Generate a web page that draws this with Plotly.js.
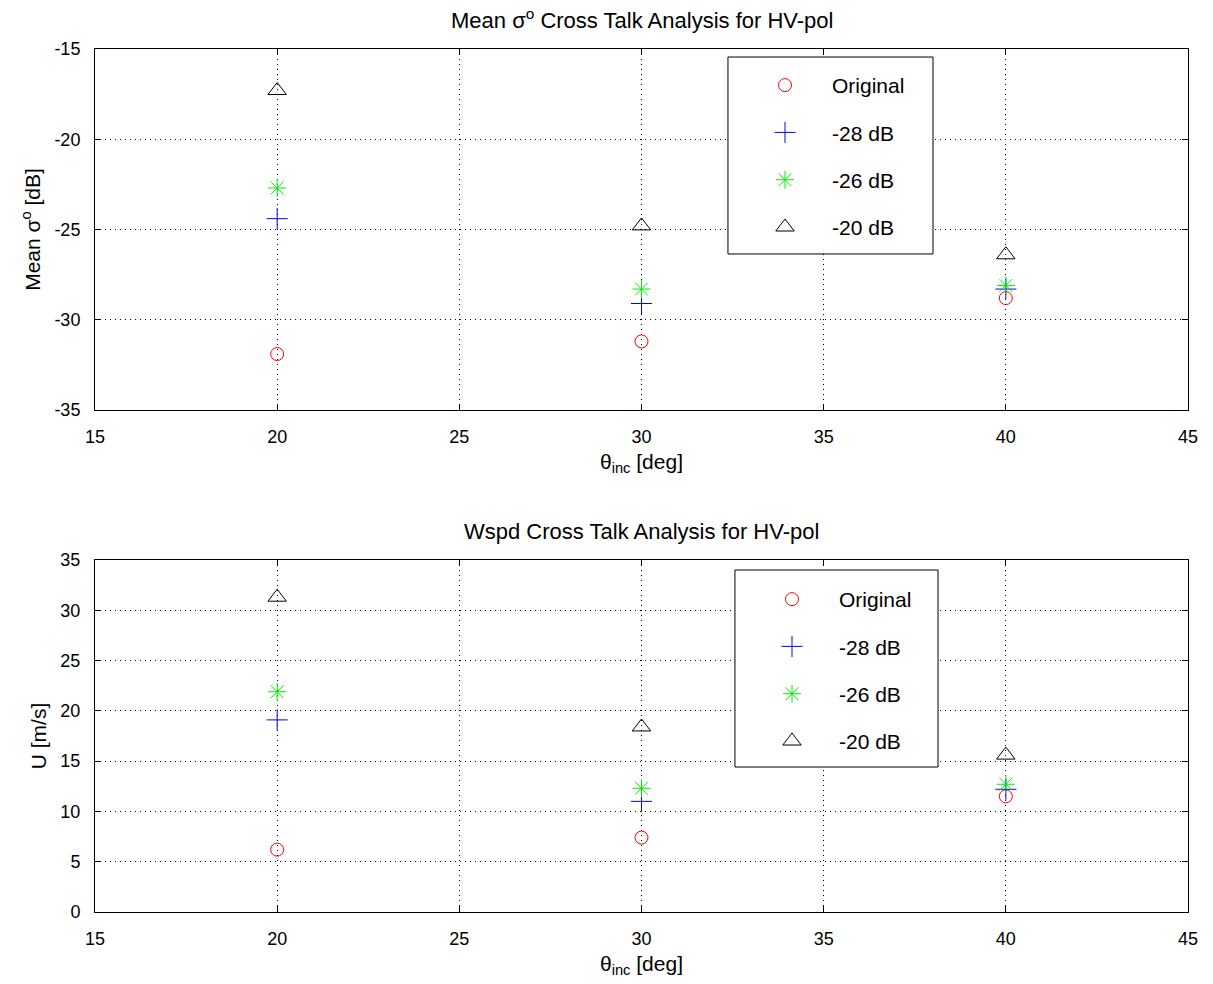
<!DOCTYPE html>
<html>
<head>
<meta charset="utf-8">
<script src="https://cdn.plot.ly/plotly-3.0.1.min.js"></script>
<style>html,body{margin:0;padding:0;background:#fff;}#chart{width:1213px;height:984px;}</style>
</head>
<body>
<div id="chart"></div>
<script>
// Data
var incAngles = [20, 30, 40];
var seriesNames = ['Original', '-28 dB', '-26 dB', '-20 dB'];
// Mean sigma0 [dB]
var sigmaOriginal = [-31.9, -31.2, -28.8];
var sigma28 = [-24.4, -29.1, -28.3];
var sigma26 = [-22.7, -28.3, -28.1];
var sigma20 = [-17.3, -24.8, -26.4];
// Wind speed [m/s]
var wspdOriginal = [6.2, 7.4, 11.5];
var wspd28 = [19.1, 11.0, 12.2];
var wspd26 = [21.9, 12.3, 12.7];
var wspd20 = [31.3, 18.4, 15.6];
// Tick labels
var xTicks = [15, 20, 25, 30, 35, 40, 45];
var xTickText = ['15', '20', '25', '30', '35', '40', '45'];
var yTicksTop = [-35, -30, -25, -20, -15];
var yTickTextTop = ['-35', '-30', '-25', '-20', '-15'];
var yTicksBot = [0, 5, 10, 15, 20, 25, 30, 35];
var yTickTextBot = ['0', '5', '10', '15', '20', '25', '30', '35'];

var styles = [
  {symbol: 'circle-open', color: '#ff0000', size: 13},
  {symbol: 'cross-thin-open', color: '#0000ff', size: 15},
  {symbol: 'asterisk-open', color: '#00ee00', size: 15},
  {symbol: 'triangle-up-open', color: '#000000', size: 16}
];
var topSeries = [sigmaOriginal, sigma28, sigma26, sigma20];
var botSeries = [wspdOriginal, wspd28, wspd26, wspd20];

var traces = [];
topSeries.forEach(function(ys, i){
  traces.push({x: incAngles, y: ys, type: 'scatter', mode: 'markers', name: seriesNames[i],
    xaxis: 'x', yaxis: 'y', legend: 'legend', legendgroup: 'a'+i,
    marker: {symbol: styles[i].symbol, color: styles[i].color, size: styles[i].size, line: {width: 1, color: styles[i].color}}});
});
botSeries.forEach(function(ys, i){
  traces.push({x: incAngles, y: ys, type: 'scatter', mode: 'markers', name: seriesNames[i],
    xaxis: 'x2', yaxis: 'y2', legend: 'legend2', legendgroup: 'b'+i,
    marker: {symbol: styles[i].symbol, color: styles[i].color, size: styles[i].size, line: {width: 1, color: styles[i].color}}});
});

var fam = 'Liberation Sans, Arial, sans-serif';
var font = {family: fam, size: 18, color: '#000'};
var titleFont = {family: fam, size: 21, color: '#000'};
function xax(anchor){
  return {anchor: anchor, range: [15, 45], tickmode: 'array', tickvals: xTicks, ticktext: xTickText,
    showline: true, linecolor: '#000', linewidth: 1,
    mirror: 'ticks', ticks: 'inside', ticklen: 6, tickcolor: '#000', showgrid: true, gridcolor: '#000',
    griddash: '1px,4px', gridwidth: 1, zeroline: false, tickfont: font, ticklabelstandoff: 10,
    title: {text: '\u03b8<sub>inc</sub> [deg]', font: titleFont, standoff: 8}};
}
function yax(anchor, domain, range, vals, text, title){
  return {anchor: anchor, domain: domain, range: range, tickmode: 'array', tickvals: vals, ticktext: text,
    showline: true, linecolor: '#000', linewidth: 1,
    mirror: 'ticks', ticks: 'inside', ticklen: 6, tickcolor: '#000', showgrid: true, gridcolor: '#000',
    griddash: '1px,4px', gridwidth: 1, zeroline: false, tickfont: font, ticklabelstandoff: 10,
    title: {text: title, font: titleFont, standoff: 8}};
}
var legendBase = {bgcolor: 'rgba(0,0,0,0)', borderwidth: 0, font: {family: fam, size: 21, color: '#000'},
  traceorder: 'grouped', tracegroupgap: 17, itemwidth: 84, xanchor: 'left', yanchor: 'top', itemclick: false};

var layout = {
  width: 1213, height: 984,
  margin: {l: 95, r: 25, t: 49, b: 72},
  paper_bgcolor: '#fff', plot_bgcolor: '#fff',
  font: font,
  showlegend: true,
  xaxis: xax('y'),
  yaxis: yax('x', [0.5817, 1], [-35, -15], yTicksTop, yTickTextTop, 'Mean \u03c3<sup>o</sup> [dB]'),
  xaxis2: xax('y2'),
  yaxis2: yax('x2', [0, 0.4079], [0, 35], yTicksBot, yTickTextBot, 'U [m/s]'),
  legend: Object.assign({}, legendBase, {x: 0.5883, y: 0.9815}),
  legend2: Object.assign({}, legendBase, {x: 0.5947, y: 0.3859}),
  shapes: [
    {type: 'rect', xref: 'paper', yref: 'paper', x0: 0.5791, x1: 0.7667, y0: 0.7625, y1: 0.9907,
      fillcolor: '#fff', line: {color: '#000', width: 1}, layer: 'above'},
    {type: 'rect', xref: 'paper', yref: 'paper', x0: 0.5855, x1: 0.7713, y0: 0.1680, y1: 0.3963,
      fillcolor: '#fff', line: {color: '#000', width: 1}, layer: 'above'}
  ],
  annotations: [
    {text: 'Mean \u03c3<sup>o</sup> Cross Talk Analysis for HV-pol', xref: 'paper', yref: 'paper', x: 0.5, y: 1, yanchor: 'bottom', yshift: 14, showarrow: false, font: {family: fam, size: 22, color: '#000'}},
    {text: 'Wspd Cross Talk Analysis for HV-pol', xref: 'paper', yref: 'paper', x: 0.5, y: 0.4079, yanchor: 'bottom', yshift: 14, showarrow: false, font: {family: fam, size: 22, color: '#000'}}
  ]
};
Plotly.newPlot('chart', traces, layout, {displayModeBar: false, staticPlot: true});
</script>
</body>
</html>
